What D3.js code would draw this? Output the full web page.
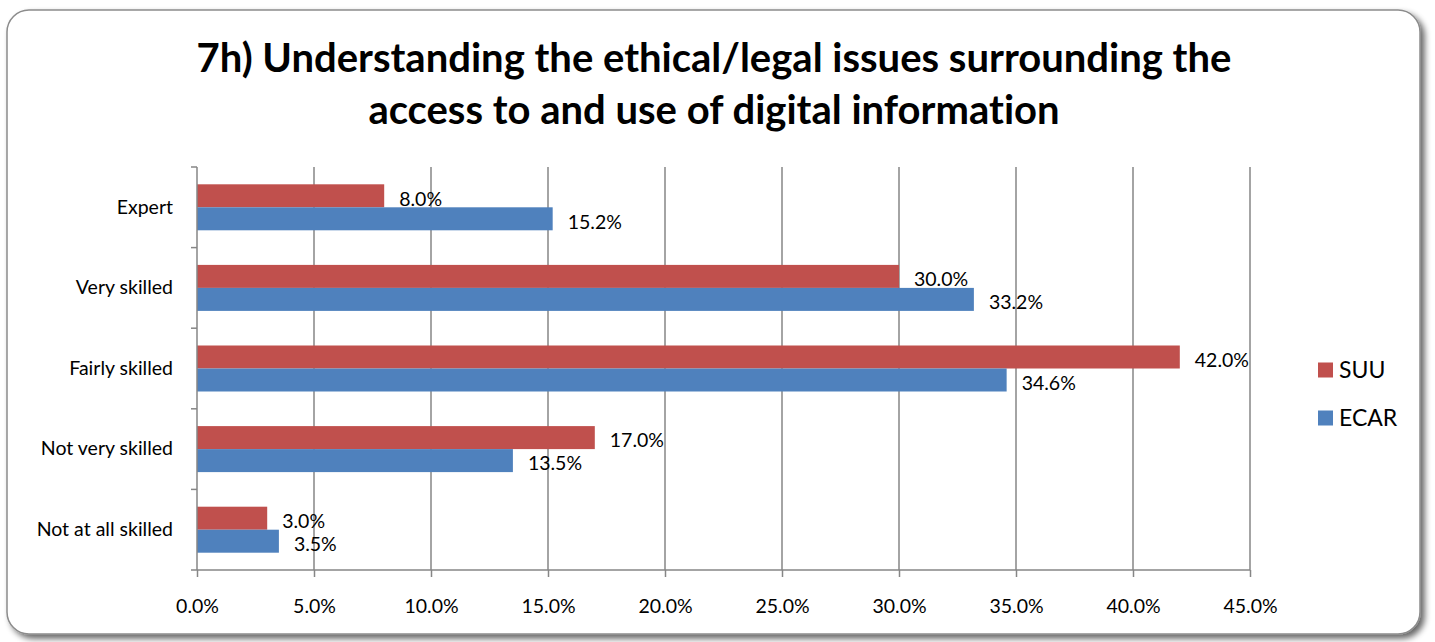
<!DOCTYPE html>
<html><head><meta charset="utf-8">
<script src="https://cdn.jsdelivr.net/npm/d3@7"></script>
<style>body{margin:0;background:#fff;}svg{display:block;font-family:Lato,"Open Sans",sans-serif;font-variant-ligatures:none;font-feature-settings:"liga" 0,"clig" 0;}</style>
</head><body><svg id="c" width="1435" height="642"></svg>
<script>
const categories = ["Expert","Very skilled","Fairly skilled","Not very skilled","Not at all skilled"];
const seriesNames = ["SUU","ECAR"];
const suuValues = [8.0,30.0,42.0,17.0,3.0];
const ecarValues = [15.2,33.2,34.6,13.5,3.5];
const xTicks = [0,5,10,15,20,25,30,35,40,45];
const colors = ["#C0504D","#4F81BD"];
const titleLines = ["7h) Understanding the ethical/legal issues surrounding the","access to and use of digital information"];

const svg = d3.select("#c");
const defs = svg.append("defs");
const f = defs.append("filter").attr("id","sh").attr("x","-5%").attr("y","-5%").attr("width","110%").attr("height","110%");
f.append("feGaussianBlur").attr("in","SourceAlpha").attr("stdDeviation",3).attr("result","b");
f.append("feOffset").attr("in","b").attr("dx",4).attr("dy",4).attr("result","o");
f.append("feComponentTransfer").attr("in","o").attr("result","o2").append("feFuncA").attr("type","linear").attr("slope",0.6);
const m = f.append("feMerge"); m.append("feMergeNode").attr("in","o2"); m.append("feMergeNode").attr("in","SourceGraphic");

svg.append("rect").attr("x",7).attr("y",10).attr("width",1413).attr("height",624).attr("rx",22)
  .attr("fill","#fff").attr("stroke","#8c8c8c").attr("stroke-width",1.5).attr("filter","url(#sh)");

const title = svg.append("text").attr("text-anchor","middle").attr("font-weight","bold").attr("font-size",36).attr("fill","#000");
const tsp = titleLines.map((t,i)=>title.append("tspan").attr("x",714).attr("y",72+i*52).text(t));
const w0 = tsp[0].node().getComputedTextLength();
if (w0>0) title.attr("font-size", 36*1035/w0);

const x = d3.scaleLinear().domain([0,45]).range([197,1250]);
const y = d3.scaleBand().domain(categories).range([167,570]);
const inner = d3.scaleBand().domain(seriesNames).range([y.bandwidth()/2-23, y.bandwidth()/2+23]);

svg.append("g").selectAll("line").data(xTicks.filter(d=>d>0)).join("line")
  .attr("x1",d=>x(d)).attr("x2",d=>x(d)).attr("y1",167).attr("y2",570).attr("stroke","#868686").attr("stroke-width",1.5);

const FS = 19.5;
const data = categories.map((c,i)=>({cat:c, vals:[suuValues[i],ecarValues[i]]}));
const g = svg.append("g");
data.forEach(d=>{
  d.vals.forEach((v,j)=>{
    const yy = y(d.cat)+inner(seriesNames[j]);
    g.append("rect").attr("x",x(0)).attr("y",yy).attr("width",x(v)-x(0)).attr("height",inner.bandwidth()).attr("fill",colors[j]);
    g.append("text").attr("x",x(v)+15).attr("y",yy+inner.bandwidth()/2+3).attr("dy","0.35em")
      .attr("font-size",FS).attr("fill","#000").text(v.toFixed(1)+"%");
  });
});

const xAxis = d3.axisBottom(x).tickValues(xTicks).tickFormat(d=>d.toFixed(1)+"%").tickSize(7).tickPadding(22);
const xa = svg.append("g").attr("transform","translate(0,570)").call(xAxis);
xa.select(".domain").attr("stroke","#868686").attr("stroke-width",1.5).attr("d","M197,0H1250");
xa.selectAll(".tick line").attr("stroke","#868686").attr("stroke-width",1.5);
xa.selectAll(".tick text").attr("font-size",FS).attr("fill","#000").attr("font-family","Lato");

const yAxis = d3.axisLeft(y).tickSize(0).tickPadding(24);
const ya = svg.append("g").attr("transform","translate(197,0)").call(yAxis);
ya.select(".domain").attr("stroke","#868686").attr("stroke-width",1.5).attr("d","M0,167V570");
ya.selectAll(".tick text").attr("font-size",FS).attr("fill","#000").attr("font-family","Lato");
const bounds = categories.map(c=>y(c)).concat([y.range()[1]]);
ya.append("g").selectAll("line").data(bounds).join("line").attr("x1",-6).attr("x2",0).attr("y1",d=>d).attr("y2",d=>d)
  .attr("stroke","#868686").attr("stroke-width",1.5);

const lg = svg.append("g");
seriesNames.forEach((s,i)=>{
  const ly = 370 + i*48;
  lg.append("rect").attr("x",1318).attr("y",ly-7.5).attr("width",15).attr("height",15).attr("fill",colors[i]);
  lg.append("text").attr("x",1339).attr("y",ly).attr("dy","0.35em").attr("font-size",23).attr("fill","#000").text(s);
});
</script></body></html>
